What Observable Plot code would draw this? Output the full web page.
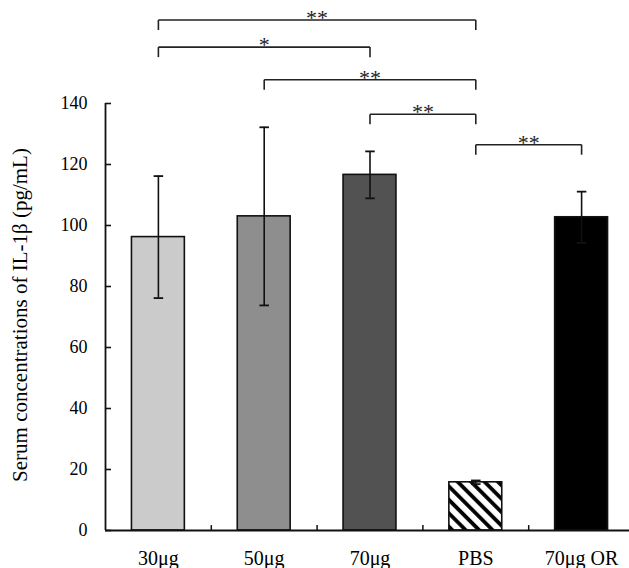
<!DOCTYPE html>
<html>
<head>
<meta charset="utf-8">
<script src="https://cdn.jsdelivr.net/npm/d3@7"></script>
<script src="https://cdn.jsdelivr.net/npm/@observablehq/plot@0.6"></script>
<style>
  html, body { margin: 0; padding: 0; background: #fff; }
</style>
</head>
<body>
<div id="chart"></div>
<script>
// ---- data ----
const categories = ["30μg", "50μg", "70μg", "PBS", "70μg OR"];
const means = [96.2, 103.0, 116.6, 15.8, 102.7];
const sds = [20.0, 29.2, 7.7, 0.6, 8.4];
const yTicks = [0, 20, 40, 60, 80, 100, 120, 140];
const yLabel = "Serum concentrations of IL-1β (pg/mL)";

const bracketFrom = ["30μg", "30μg", "50μg", "70μg", "PBS"];
const bracketTo = ["PBS", "70μg", "PBS", "PBS", "70μg OR"];
const bracketLevel = [167.4, 158.5, 147.8, 136.5, 126.5];
const bracketLabel = ["**", "*", "**", "**", "**"];

// ---- styles ----
const barFills = ["#cbcbcb", "#8e8e8e", "#525252", "url(#hatch)", "#000000"];
const ink = "#111";

const data = categories.map((group, i) => ({group, i, mean: means[i], sd: sds[i]}));
const brackets = bracketFrom.map((from, k) => ({
  a: categories.indexOf(from),
  b: categories.indexOf(bracketTo[k]),
  level: bracketLevel[k],
  label: bracketLabel[k]
}));
const boundaries = categories.slice(1).map((_, i) => i + 0.5);
const xDomain = [-0.5, categories.length - 0.5];
const drop = 3.3;
const half = 0.25;
const cap = 0.045;

const svg = Plot.plot({
  width: 629,
  height: 568,
  marginLeft: 105,
  marginRight: 0,
  marginTop: 103,
  marginBottom: 38,
  style: {fontFamily: "'Liberation Serif', 'Times New Roman', serif", fontSize: "18px", background: "#fff", color: "#000"},
  x: {type: "linear", domain: xDomain, range: [105, 634], axis: null},
  y: {domain: [0, 140], axis: null},
  color: {type: "ordinal", domain: categories, range: barFills},
  marks: [
    Plot.rect(data, {x1: d => d.i - half, x2: d => d.i + half, y1: 0, y2: "mean", fill: "group", stroke: ink, strokeWidth: 1.6}),
    Plot.ruleX(data, {x: "i", y1: d => d.mean - d.sd, y2: d => d.mean + d.sd, stroke: ink, strokeWidth: 1.6}),
    Plot.link(data, {x1: d => d.i - cap, x2: d => d.i + cap, y1: d => d.mean + d.sd, y2: d => d.mean + d.sd, stroke: ink, strokeWidth: 1.8}),
    Plot.link(data, {x1: d => d.i - cap, x2: d => d.i + cap, y1: d => d.mean - d.sd, y2: d => d.mean - d.sd, stroke: ink, strokeWidth: 1.8}),
    // axes
    Plot.ruleY([0], {stroke: ink, strokeWidth: 1.8}),
    Plot.ruleX([xDomain[0]], {y1: 0, y2: 140, stroke: ink, strokeWidth: 1.8}),
    Plot.tickY(yTicks, {y: d => d, insetRight: 518, stroke: ink, strokeWidth: 1.6}),
    Plot.text(yTicks, {x: xDomain[0], y: d => d, text: d => String(d), dx: -18, textAnchor: "end", fontSize: 18}),
    Plot.ruleX(boundaries, {x: d => d, y1: 0, y2: 1.6, stroke: ink, strokeWidth: 1.5}),
    Plot.text(data, {x: "i", y: 0, text: "group", lineAnchor: "top", dy: 20, fontSize: 20}),
    Plot.text([yLabel], {frameAnchor: "left", text: d => d, textAnchor: "middle", dx: -85, dy: -2, rotate: -90, fontSize: 21}),
    // significance brackets
    Plot.link(brackets, {x1: "a", x2: "b", y1: "level", y2: "level", stroke: "#222", strokeWidth: 1.6}),
    Plot.link(brackets, {x1: "a", x2: "a", y1: "level", y2: d => d.level - drop, stroke: "#222", strokeWidth: 1.6}),
    Plot.link(brackets, {x1: "b", x2: "b", y1: "level", y2: d => d.level - drop, stroke: "#222", strokeWidth: 1.6}),
    Plot.text(brackets, {x: d => (d.a + d.b) / 2, y: "level", text: "label", dy: -2, fontSize: 22, fill: "#222"})
  ]
});

// hatch pattern for the PBS bar
const defs = d3.select(svg).insert("defs", ":first-child");
const pat = defs.append("pattern")
  .attr("id", "hatch")
  .attr("patternUnits", "userSpaceOnUse")
  .attr("width", 9.5)
  .attr("height", 9.5)
  .attr("patternTransform", "rotate(-45)");
pat.append("rect").attr("width", 9.5).attr("height", 9.5).attr("fill", "#fff");
pat.append("line").attr("x1", 2).attr("y1", 0).attr("x2", 2).attr("y2", 9.5)
  .attr("stroke", "#000").attr("stroke-width", 3.8);

document.getElementById("chart").appendChild(svg);
</script>
</body>
</html>
